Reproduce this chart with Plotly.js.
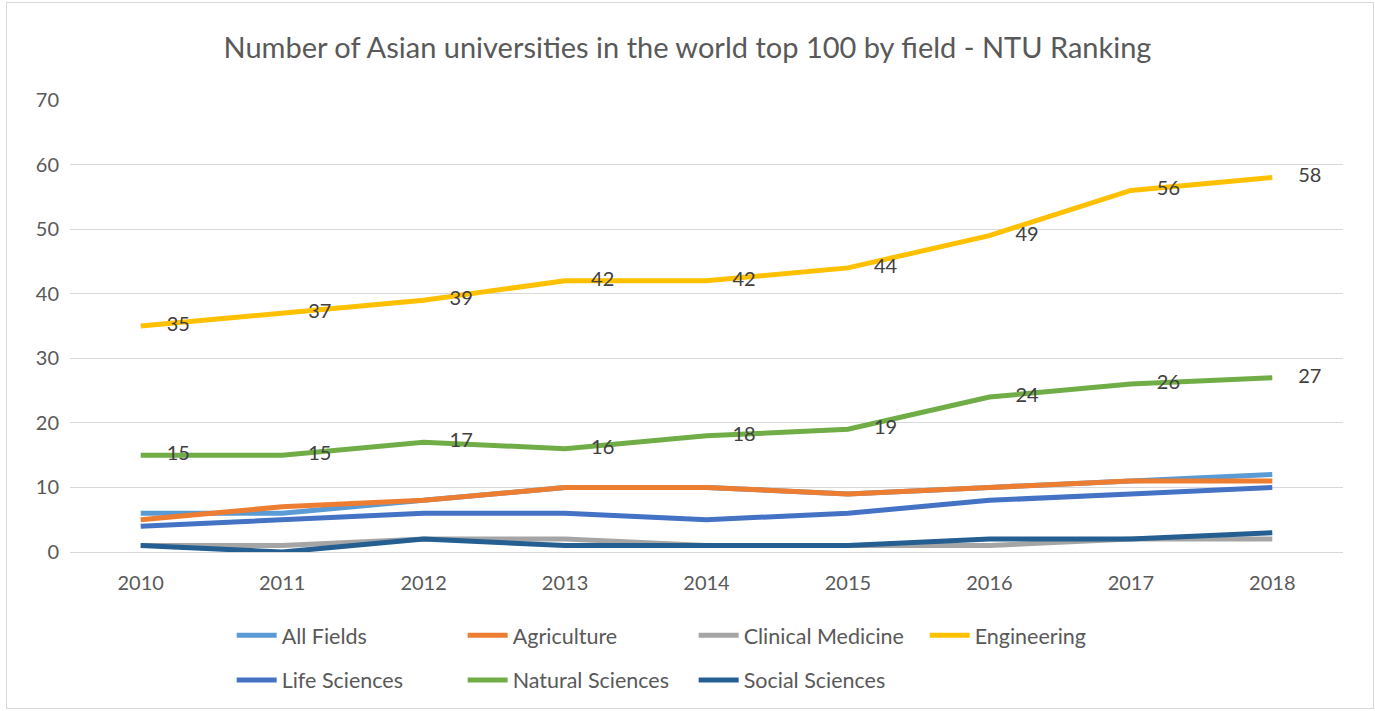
<!DOCTYPE html>
<html><head><meta charset="utf-8">
<script src="https://cdn.plot.ly/plotly-3.0.1.min.js"></script>
<style>
html,body{margin:0;padding:0;background:#fff;}
#chart{width:1375px;height:711px;}
#frame{position:absolute;left:6px;top:2px;width:1366px;height:705px;border:1px solid #d9d9d9;pointer-events:none;}
</style></head>
<body>
<div id="chart"></div>
<div id="frame"></div>
<script>
const years = ['2010','2011','2012','2013','2014','2015','2016','2017','2018'];
const allFields = [6, 6, 8, 10, 10, 9, 10, 11, 12];
const agriculture = [5, 7, 8, 10, 10, 9, 10, 11, 11];
const clinicalMedicine = [1, 1, 2, 2, 1, 1, 1, 2, 2];
const engineering = [35, 37, 39, 42, 42, 44, 49, 56, 58];
const lifeSciences = [4, 5, 6, 6, 5, 6, 8, 9, 10];
const naturalSciences = [15, 15, 17, 16, 18, 19, 24, 26, 27];
const socialSciences = [1, 0, 2, 1, 1, 1, 2, 2, 3];

const FONT = 'Lato, "Open Sans", sans-serif';

function line(name, y, color, legend) {
  return {
    type: 'scatter', x: years, y: y, name: name, mode: 'lines',
    line: {color: color, width: 5}, legend: legend
  };
}
function labels(y) {
  return {
    type: 'scatter', x: years, y: y, mode: 'markers+text', showlegend: false,
    text: y.map(String), textposition: 'middle right',
    textfont: {family: FONT, size: 20, color: '#404040'},
    marker: {size: 40, opacity: 0, color: '#fff'}
  };
}

const data = [
  line('All Fields', allFields, '#5B9BD5', 'legend'),
  line('Agriculture', agriculture, '#ED7D31', 'legend'),
  line('Clinical Medicine', clinicalMedicine, '#A5A5A5', 'legend'),
  line('Engineering', engineering, '#FFC000', 'legend'),
  line('Life Sciences', lifeSciences, '#4472C4', 'legend2'),
  line('Natural Sciences', naturalSciences, '#70AD47', 'legend2'),
  line('Social Sciences', socialSciences, '#255E91', 'legend2'),
  labels(engineering),
  labels(naturalSciences)
];

const legendBase = {
  orientation: 'h', xanchor: 'left', yanchor: 'middle',
  entrywidth: 176, entrywidthmode: 'pixels',
  font: {family: FONT, size: 21.5, color: '#595959'},
  bgcolor: 'rgba(0,0,0,0)', itemwidth: 40, tracegroupgap: 0
};

const layout = {
  width: 1375, height: 711,
  paper_bgcolor: '#fff', plot_bgcolor: '#fff',
  margin: {l: 70, r: 32, t: 100, b: 159, autoexpand: false},
  title: {text: 'Number of Asian universities in the world top 100 by field - NTU Ranking',
    font: {family: FONT, size: 29, color: '#595959'},
    x: 0.5, xanchor: 'center', yref: 'container', y: 0.932, yanchor: 'middle'},
  xaxis: {type: 'category', range: [-0.5, 8.5], showgrid: false, zeroline: false,
    showline: false, ticks: '', tickfont: {family: FONT, size: 20, color: '#595959'},
    ticklabelstandoff: 17, fixedrange: true},
  yaxis: {range: [0, 70], dtick: 10, showgrid: true, gridcolor: '#d9d9d9', gridwidth: 1,
    zeroline: true, zerolinecolor: '#d9d9d9', zerolinewidth: 1, showline: false, ticks: '',
    tickfont: {family: FONT, size: 20, color: '#595959'}, ticklabelstandoff: 10, fixedrange: true},
  showlegend: true,
  legend: Object.assign({}, legendBase, {x: 0.127, y: -0.184}),
  legend2: Object.assign({}, legendBase, {x: 0.127, y: -0.283})
};

Plotly.newPlot('chart', data, layout, {displayModeBar: false, staticPlot: true});
</script>
</body></html>
